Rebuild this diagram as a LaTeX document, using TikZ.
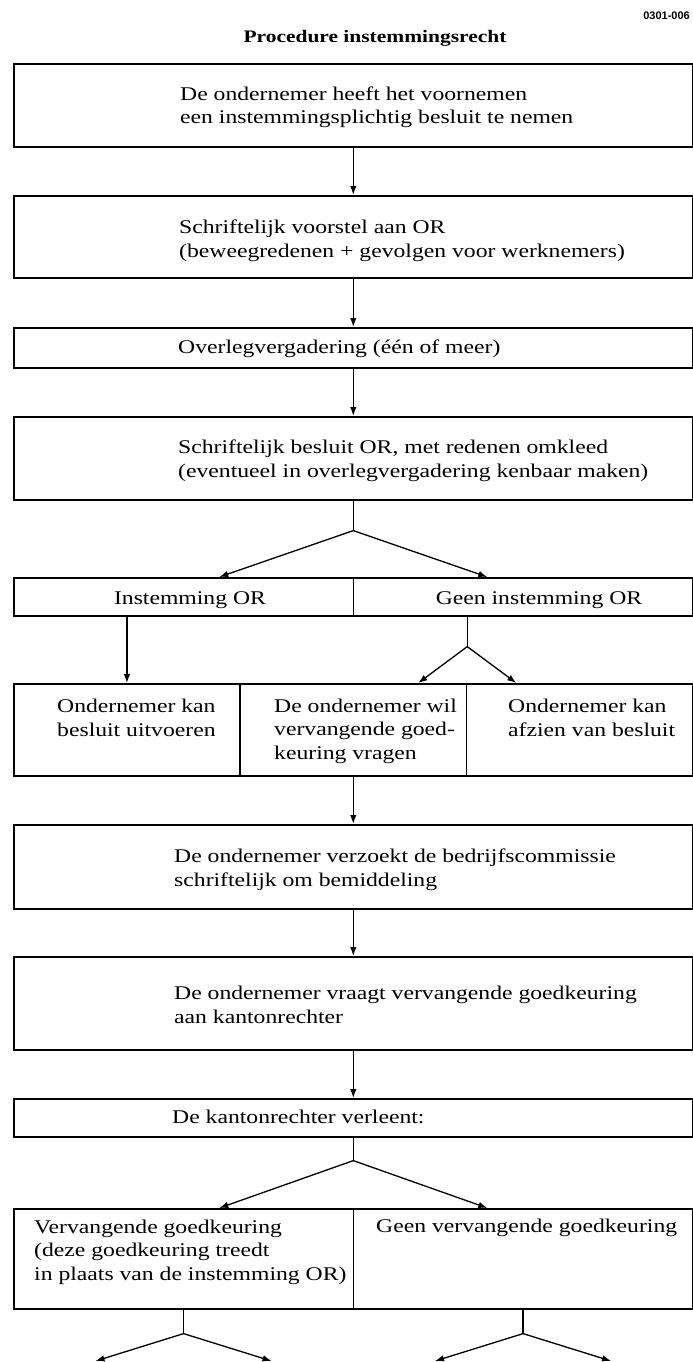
\documentclass[tikz,border=0pt]{standalone}
\usepackage{fontspec}
\setmainfont{Liberation Serif}[FakeStretch=1.22]
\newfontfamily\codefont{Liberation Sans}
\usetikzlibrary{arrows.meta}
\usetikzlibrary{calc}

\tikzset{
    box/.style = {draw, line width=1.6pt, inner sep=0pt, anchor=north west},
    txt/.style = {inner sep=0pt, anchor=base west, align=left, font=\fontsize{19.4}{23.5}\selectfont},
    link/.style = {line width=1.3pt, -{Latex[length=9pt,width=6.5pt]}},
}

\begin{document}
\begin{tikzpicture}[x=1pt,y=-1pt]
    \def\Left{13}
    \def\Full{679}
    \def\Half{339.5}
    \def\Third{226.33}
    \useasboundingbox (0,0) rectangle (693,1362);
    \node[inner sep=0pt, anchor=base east, font=\codefont\bfseries\fontsize{11}{12}\selectfont] (code) at (690,20) {0301-006};
    \node[inner sep=0pt, anchor=base, font=\bfseries\fontsize{17.6}{20}\selectfont] (title) at (375,43) {Procedure instemmingsrecht};
    % 每个框: 名字/左/上/宽/高
    \foreach \name/\x/\top/\w/\h in {
        b1/\Left/63/\Full/83, b2/\Left/195/\Full/82, b3/\Left/327/\Full/40, b4/\Left/416/\Full/83,
        b5l/\Left/577/\Half/38, b5r/352.5/577/\Half/38,
        b6a/\Left/683/\Third/92, b6b/239.33/683/\Third/92, b6c/465.67/683/\Third/92,
        b7/\Left/824/\Full/84, b8/\Left/956/\Full/93, b9/\Left/1098/\Full/38,
        b10l/\Left/1208/\Half/100, b10r/352.5/1208/\Half/100}{
            \node[box, minimum width=\w, minimum height=\h] (\name) at (\x,\top) {};
        }
    % 多行文字: 坐标给的是最后一行的基线
    \node[txt] (t1) at (180,124) {De ondernemer heeft het voornemen\\een instemmingsplichtig besluit te nemen};
    \node[txt] (t2) at (179,257) {Schriftelijk voorstel aan OR\\(beweegredenen + gevolgen voor werknemers)};
    \node[txt] (t3) at (178,353) {Overlegvergadering (één of meer)};
    \node[txt] (t4) at (178,477) {Schriftelijk besluit OR, met redenen omkleed\\(eventueel in overlegvergadering kenbaar maken)};
    \node[txt, anchor=base] (t5l) at (190,604) {Instemming OR};
    \node[txt, anchor=base] (t5r) at (539,604) {Geen instemming OR};
    \node[txt] (t6a) at (57,736) {Ondernemer kan\\besluit uitvoeren};
    \node[txt] (t6b) at (274,759) {De ondernemer wil\\vervangende goed-\\keuring vragen};
    \node[txt] (t6c) at (508,736) {Ondernemer kan\\afzien van besluit};
    \node[txt] (t7) at (174,886) {De ondernemer verzoekt de bedrijfscommissie\\schriftelijk om bemiddeling};
    \node[txt] (t8) at (174,1023) {De ondernemer vraagt vervangende goedkeuring\\aan kantonrechter};
    \node[txt] (t9) at (172,1123) {De kantonrechter verleent:};
    \node[txt] (t10l) at (34,1280) {Vervangende goedkeuring\\(deze goedkeuring treedt\\in plaats van de instemming OR)};
    \node[txt] (t10r) at (376,1232) {Geen vervangende goedkeuring};

    \foreach \a/\b in {b1/b2, b2/b3, b3/b4, b7/b8, b8/b9}{
            \draw[link] (\a.south) -- (\b.north);
        }
    \draw[link] (b6a.north |- b5l.south) -- (b6a.north);
    \draw[link] (b6b.south) -- (b6b.south |- b7.north);
    \coordinate (g5) at (b6b.north east |- b5r.south);
    \coordinate (bottom) at (0,1361);
    \foreach \from/\stem/\dx/\to [count=\n] in {
        b4.south/30/134/b5l.north, g5/30/49/b6a.north, b9.south/23/134/b10l.north,
        b10l.south/24/88/bottom, b10r.south/24/88/bottom}{
            \draw[line width=1.3pt] (\from) --++(0,\stem) coordinate (k\n);
            \draw[link] (k\n) -- ([xshift=-\dx pt]k\n |- \to);
            \draw[link] (k\n) -- ([xshift=\dx pt]k\n |- \to);
        }
\end{tikzpicture}
\end{document}
